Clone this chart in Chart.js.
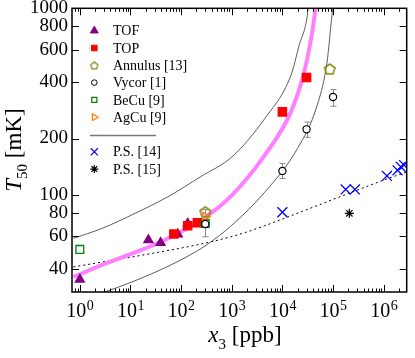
<!DOCTYPE html>
<html><head><meta charset="utf-8">
<script src="https://cdn.jsdelivr.net/npm/chart.js@4"></script>
<style>html,body{margin:0;padding:0;background:#fff}#wrap{width:415px;height:358px}</style>
</head><body><div id="wrap"><canvas id="c" width="415" height="358"></canvas></div>
<script>
// ---- data ----
const tofX = [1, 22.6, 39.3, 86, 135];
const tofY = [35, 57, 55.2, 61.2, 70];
const topX = [72, 135, 210, 1e4, 3e4];
const topY = [61.4, 68, 70.6, 278, 425];
const annulusX = [300, 8.6e4];
const annulusY = [81, 473];
const vycorX = [300, 1e4, 3e4, 1e5];
const vycorY = [69.5, 134, 224, 334];
const vycorLo = [59.4, 122, 203, 298];
const vycorHi = [83, 147, 245, 366];
const becuX = [1, 300];
const becuY = [50.8, 70];
const agcuX = [300];
const agcuY = [76];
const ps14X = [1e4, 1.78e5, 2.7e5, 1.16e6, 1.88e6, 2.18e6, 2.53e6];
const ps14Y = [80.4, 106.6, 106.6, 126, 135, 141, 144];
const ps15X = [2.1e5];
const ps15Y = [79.3];
const fitX = [0.745, 2.76, 12.3, 40.3, 115, 281, 1010, 4490, 14750, 26900, 38900, 45100];
const fitY = [36.1, 41.9, 48.9, 55.8, 64.5, 74.5, 99.4, 163, 278, 455, 746, 1000];
const upperX = [0.745, 2.76, 12.3, 54.5, 241, 1010, 4490, 14750, 21500, 31100, 32100];
const upperY = [58.2, 65.9, 79.3, 97.3, 124.6, 159.5, 256, 437, 634, 917, 1000];
const lowerX = [2.38, 5.82, 25.8, 115, 325, 1010, 4490, 19900, 48700, 76200, 95300, 99600];
const lowerY = [29.3, 31.9, 37.5, 45.6, 53.9, 68.6, 103.1, 177, 302, 515, 917, 1000];
const dotX = [0.745, 15.6, 307, 1361, 5210, 12700, 2.01e5, 1.2e6, 2.85e6];
const dotY = [40.9, 47.1, 55.0, 61.0, 69.1, 75.8, 101.3, 121.8, 132];

const xTickVals = [1, 10, 100, 1e3, 1e4, 1e5, 1e6];
const xTickSup = ['0', '1', '2', '3', '4', '5', '6'];
const yTickVals = [40, 60, 80, 100, 200, 400, 600, 800, 1000];
const legendLabels = ['TOF', 'TOP', 'Annulus [13]', 'Vycor [1]', 'BeCu [9]', 'AgCu [9]', 'P.S. [14]', 'P.S. [15]'];

const X_MIN = 0.745, X_MAX = 2.85e6, Y_MIN = 30, Y_MAX = 1000;
const SERIF = '"Liberation Serif", "DejaVu Serif", serif';

const pts = (xs, ys) => xs.map((x, i) => ({x: x, y: ys[i]}));

function pentagon(size, color, lw) {
  const c = document.createElement('canvas');
  c.width = c.height = size;
  const g = c.getContext('2d');
  g.strokeStyle = color; g.lineWidth = lw;
  g.beginPath();
  const r = size / 2 - lw;
  for (let k = 0; k < 5; k++) {
    const a = -Math.PI / 2 + k * 2 * Math.PI / 5;
    const px = size / 2 + r * Math.cos(a), py = size / 2 + 0.6 + r * Math.sin(a);
    if (k) g.lineTo(px, py); else g.moveTo(px, py);
  }
  g.closePath(); g.stroke();
  return c;
}
const pentBig = pentagon(14, '#808000', 1.5);
const pentSmall = pentagon(10, '#808000', 1.2);

const legendStyles = [
  {pointStyle: 'triangle', radius: 4.5, rotation: 0, fill: '#800080', stroke: '#800080', bw: 1},
  {pointStyle: 'rect', radius: 4, rotation: 0, fill: '#ff0000', stroke: '#ff0000', bw: 1},
  {pointStyle: pentSmall, radius: 5, rotation: 0, fill: 'rgba(0,0,0,0)', stroke: '#808000', bw: 1},
  {pointStyle: 'circle', radius: 2.8, rotation: 0, fill: 'rgba(0,0,0,0)', stroke: '#000', bw: 1},
  {pointStyle: 'rect', radius: 3.6, rotation: 0, fill: 'rgba(0,0,0,0)', stroke: '#008000', bw: 1.2},
  {pointStyle: 'triangle', radius: 3.8, rotation: 90, fill: 'rgba(0,0,0,0)', stroke: '#ff8000', bw: 1.2},
  {pointStyle: 'crossRot', radius: 5, rotation: 0, fill: 'rgba(0,0,0,0)', stroke: '#0000ff', bw: 1.2},
  {pointStyle: 'star', radius: 4, rotation: 0, fill: 'rgba(0,0,0,0)', stroke: '#000', bw: 1.2}
];

const deco = {
  id: 'deco',
  beforeDatasetsDraw(chart) {
    const {ctx, scales: {x, y}} = chart;
    ctx.save();
    ctx.strokeStyle = '#888'; ctx.lineWidth = 1;
    vycorX.forEach((vx, i) => {
      const px = Math.round(x.getPixelForValue(vx)) + 0.5;
      const p1 = y.getPixelForValue(vycorLo[i]), p2 = y.getPixelForValue(vycorHi[i]);
      ctx.beginPath();
      ctx.moveTo(px, p1); ctx.lineTo(px, p2);
      ctx.moveTo(px - 3, p1); ctx.lineTo(px + 3, p1);
      ctx.moveTo(px - 3, p2); ctx.lineTo(px + 3, p2);
      ctx.stroke();
    });
    ctx.restore();
  },
  afterDraw(chart) {
    const {ctx, chartArea: a, scales: {x, y}} = chart;
    ctx.save();
    // frame
    ctx.strokeStyle = '#000'; ctx.lineWidth = 1.5;
    ctx.strokeRect(a.left, a.top, a.right - a.left, a.bottom - a.top);
    // ticks
    ctx.lineWidth = 1;
    ctx.beginPath();
    const xt = (v, len) => {
      const px = Math.round(x.getPixelForValue(v)) + 0.5;
      ctx.moveTo(px, a.bottom); ctx.lineTo(px, a.bottom - len);
      ctx.moveTo(px, a.top); ctx.lineTo(px, a.top + len);
    };
    for (let e = -1; e <= 6; e++) {
      for (let m = 1; m <= 9; m++) {
        const v = m * Math.pow(10, e);
        if (v < X_MIN || v > X_MAX) continue;
        xt(v, m === 1 ? 7 : 3.5);
      }
    }
    yTickVals.forEach(v => {
      const py = Math.round(y.getPixelForValue(v)) + 0.5;
      ctx.moveTo(a.left, py); ctx.lineTo(a.left + 7, py);
      ctx.moveTo(a.right, py); ctx.lineTo(a.right - 7, py);
    });
    ctx.stroke();
    // x tick labels with superscripts
    ctx.fillStyle = '#000';
    ctx.textBaseline = 'alphabetic';
    ctx.textAlign = 'left';
    xTickVals.forEach((v, i) => {
      const px = x.getPixelForValue(v);
      ctx.font = '20px ' + SERIF;
      const w1 = ctx.measureText('10').width;
      ctx.font = '14px ' + SERIF;
      const w2 = ctx.measureText(xTickSup[i]).width;
      const sx = px - (w1 + w2) / 2;
      ctx.font = '20px ' + SERIF;
      ctx.fillText('10', sx, 317);
      ctx.font = '14px ' + SERIF;
      ctx.fillText(xTickSup[i], sx + w1 + 0.5, 309.5);
    });
    // x axis title: x_3 [ppb]
    {
      const f1 = 'italic 23px ' + SERIF, f2 = '15px ' + SERIF, f3 = '23px ' + SERIF;
      ctx.font = f1; const w1 = ctx.measureText('x').width;
      ctx.font = f2; const w2 = ctx.measureText('3').width;
      ctx.font = f3; const w3 = ctx.measureText(' [ppb]').width;
      let sx = 245 - (w1 + w2 + w3) / 2;
      ctx.font = f1; ctx.fillText('x', sx, 342); sx += w1;
      ctx.font = f2; ctx.fillText('3', sx, 349); sx += w2;
      ctx.font = f3; ctx.fillText(' [ppb]', sx, 342);
    }
    // y axis title: T_50 [mK]
    {
      ctx.save();
      ctx.translate(21, 150);
      ctx.rotate(-Math.PI / 2);
      const f1 = 'italic 23px ' + SERIF, f2 = '15px ' + SERIF, f3 = '23px ' + SERIF;
      ctx.font = f1; const w1 = ctx.measureText('T').width;
      ctx.font = f2; const w2 = ctx.measureText('50').width;
      ctx.font = f3; const w3 = ctx.measureText(' [mK]').width;
      let sx = -(w1 + w2 + w3) / 2;
      ctx.font = f1; ctx.fillText('T', sx, 0); sx += w1;
      ctx.font = f2; ctx.fillText('50', sx, 6); sx += w2;
      ctx.font = f3; ctx.fillText(' [mK]', sx, 0);
      ctx.restore();
    }
    // legend
    const H = Chart.helpers;
    const rowY = i => 30.7 + 17.3 * i;
    legendLabels.forEach((lab, i) => {
      const slot = i < 6 ? i : i + 1;
      const cy = rowY(slot);
      const st = legendStyles[i];
      ctx.save();
      ctx.fillStyle = st.fill; ctx.strokeStyle = st.stroke; ctx.lineWidth = st.bw;
      H.drawPoint(ctx, {pointStyle: st.pointStyle, radius: st.radius, rotation: st.rotation, borderWidth: st.bw}, 94.3, cy);
      ctx.restore();
      ctx.fillStyle = '#000';
      ctx.font = '14px ' + SERIF;
      ctx.textAlign = 'left';
      ctx.fillText(lab, 113, cy + 4.6);
    });
    ctx.strokeStyle = '#777'; ctx.lineWidth = 1.5;
    ctx.beginPath();
    ctx.moveTo(90, Math.round(rowY(6)) + 0.5); ctx.lineTo(156, Math.round(rowY(6)) + 0.5);
    ctx.stroke();
    ctx.restore();
  }
};

const lineDs = (xs, ys, color, width, dash) => ({
  data: pts(xs, ys), showLine: true, pointRadius: 0, pointHoverRadius: 0,
  borderColor: color, borderWidth: width, borderDash: dash || [],
  cubicInterpolationMode: 'monotone', fill: false
});

new Chart(document.getElementById('c'), {
  type: 'scatter',
  data: {
    datasets: [
      {label: 'P.S. [15]', data: pts(ps15X, ps15Y), pointStyle: 'star', pointRadius: 4.5, borderColor: '#000', backgroundColor: 'rgba(0,0,0,0)', borderWidth: 1.2},
      {label: 'P.S. [14]', data: pts(ps14X, ps14Y), pointStyle: 'crossRot', pointRadius: 7, borderColor: '#0000ff', backgroundColor: 'rgba(0,0,0,0)', borderWidth: 1.3},
      {label: 'Vycor [1]', data: pts(vycorX, vycorY), pointStyle: 'circle', pointRadius: 3.6, borderColor: '#000', backgroundColor: '#fff', borderWidth: 1.2},
      {label: 'AgCu [9]', data: pts(agcuX, agcuY), pointStyle: 'triangle', rotation: 90, pointRadius: 5, borderColor: '#ff8000', backgroundColor: 'rgba(0,0,0,0)', borderWidth: 1.3},
      {label: 'Annulus [13]', data: pts(annulusX, annulusY), pointStyle: pentBig, pointRadius: 7, borderColor: '#808000', backgroundColor: 'rgba(0,0,0,0)'},
      {label: 'BeCu [9]', data: pts(becuX, becuY), pointStyle: 'rect', pointRadius: 5.5, borderColor: '#008000', backgroundColor: 'rgba(0,0,0,0)', borderWidth: 1.3},
      {label: 'TOP', data: pts(topX, topY), pointStyle: 'rect', pointRadius: 6.8, borderColor: '#ff0000', backgroundColor: '#ff0000', borderWidth: 0},
      {label: 'TOF', data: pts(tofX, tofY), pointStyle: 'triangle', pointRadius: 6.5, borderColor: '#800080', backgroundColor: '#800080', borderWidth: 0},
      Object.assign({label: 'fit'}, lineDs(fitX, fitY, '#ff80ff', 4)),
      Object.assign({label: 'upper'}, lineDs(upperX, upperY, '#333', 0.8)),
      Object.assign({label: 'lower'}, lineDs(lowerX, lowerY, '#333', 0.8)),
      Object.assign({label: 'dotted'}, lineDs(dotX, dotY, '#000', 1, [2, 3]))
    ]
  },
  options: {
    responsive: false,
    animation: false,
    devicePixelRatio: 1,
    layout: {padding: {left: 0, right: 4, top: 8, bottom: 0}},
    plugins: {legend: {display: false}, tooltip: {enabled: false}},
    events: [],
    scales: {
      x: {
        type: 'logarithmic', position: 'bottom', min: X_MIN, max: X_MAX,
        grid: {display: false, drawTicks: false}, border: {display: false},
        ticks: {display: false},
        afterBuildTicks: s => { s.ticks = xTickVals.map(v => ({value: v})); },
        afterFit: s => { s.height = 66; s.paddingLeft = 0; s.paddingRight = 0; }
      },
      y: {
        type: 'logarithmic', position: 'left', min: Y_MIN, max: Y_MAX,
        grid: {display: false, drawTicks: false}, border: {display: false},
        ticks: {
          autoSkip: false, padding: 4, color: '#000',
          font: {family: SERIF, size: 19},
          callback: v => String(v)
        },
        afterBuildTicks: s => { s.ticks = yTickVals.map(v => ({value: v})); },
        afterFit: s => { s.width = 72; s.paddingTop = 0; s.paddingBottom = 0; }
      }
    }
  },
  plugins: [deco]
});
</script>
</body></html>
